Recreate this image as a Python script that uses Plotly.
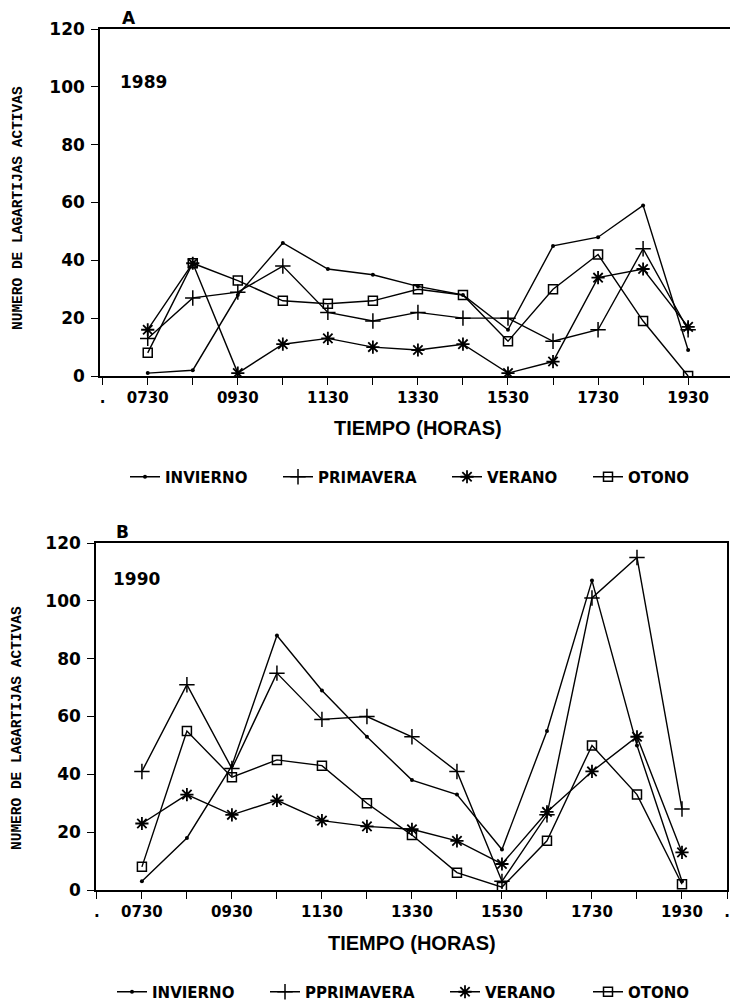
import plotly.graph_objects as go

W, H = 730, 1004

# ---------------- data ----------------
TIMES = ["0730", "0830", "0930", "1030", "1130", "1230", "1330",
         "1430", "1530", "1630", "1730", "1830", "1930"]

# 1989 (panel A)
INV_89 = [1, 2, 28, 46, 37, 35, 31, 28, 16, 45, 48, 59, 9]
PRI_89 = [13, 27, 29, 38, 22, 19, 22, 20, 20, 12, 16, 44, 16]
VER_89 = [16, 39, 1, 11, 13, 10, 9, 11, 1, 5, 34, 37, 17]
OTO_89 = [8, 39, 33, 26, 25, 26, 30, 28, 12, 30, 42, 19, 0]

# 1990 (panel B)
INV_90 = [3, 18, 43, 88, 69, 53, 38, 33, 14, 55, 107, 50, 3]
PRI_90 = [41, 71, 42, 75, 59, 60, 53, 41, 3, 26, 101, 115, 28]
VER_90 = [23, 33, 26, 31, 24, 22, 21, 17, 9, 27, 41, 53, 13]
OTO_90 = [8, 55, 39, 45, 43, 30, 19, 6, 1, 17, 50, 33, 2]

NAMES_A = ["INVIERNO", "PRIMAVERA", "VERANO", "OTONO"]
NAMES_B = ["INVIERNO", "PPRIMAVERA", "VERANO", "OTONO"]

TICK_HOURS = ["0630", "0730", "0830", "0930", "1030", "1130", "1230", "1330",
              "1430", "1530", "1630", "1730", "1830", "1930", "2030"]
TICK_TEXT_A = [".", "0730", "", "0930", "", "1130", "", "1330", "",
               "1530", "", "1730", "", "1930", ""]
TICK_TEXT_B = [".", "0730", "", "0930", "", "1130", "", "1330", "",
               "1530", "", "1730", "", "1930", "."]
Y_TICKS = [0, 20, 40, 60, 80, 100, 120]


def to_hours(t):
    return int(t[:2]) + int(t[2:]) / 60.0


X = [to_hours(t) for t in TIMES]
XT = [to_hours(t) for t in TICK_HOURS]

# ---------------- styling ----------------
BOLD = "DejaVu Sans"
NARROW = "Liberation Sans"
styles = [
    dict(symbol="circle", size=4, line=dict(width=0)),
    dict(symbol="cross-thin-open", size=11, line=dict(width=1.5, color="black")),
    dict(symbol="asterisk-open", size=11, line=dict(width=1.8, color="black")),
    dict(symbol="square-open", size=9, line=dict(width=1.5, color="black")),
]

fig = go.Figure()

panel_series = [
    ([INV_89, PRI_89, VER_89, OTO_89], NAMES_A, "x", "y", 1),
    ([INV_90, PRI_90, VER_90, OTO_90], NAMES_B, "x2", "y2", 5),
]
for series, names, xa, ya, leg0 in panel_series:
    for i, (vals, name) in enumerate(zip(series, names)):
        lg = "legend" if leg0 + i == 1 else f"legend{leg0 + i}"
        fig.add_trace(go.Scatter(
            x=X, y=vals, name=name, mode="lines+markers",
            line=dict(color="black", width=1.4),
            marker=dict(color="black", **styles[i]),
            xaxis=xa, yaxis=ya, legend=lg, showlegend=True,
        ))


def px_x(p):
    return p / W


def px_y(p):
    return 1 - p / H


axis_common = dict(
    showline=True, linecolor="black", linewidth=1.5,
    ticks="outside", ticklen=7, tickwidth=1.3, tickcolor="black",
    showgrid=False, zeroline=False, automargin=False,
)

fig.update_layout(
    template="none",
    width=W, height=H,
    margin=dict(l=0, r=0, t=0, b=0, pad=0, autoexpand=False),
    paper_bgcolor="white", plot_bgcolor="white",
    xaxis=dict(domain=[px_x(100), 1.0], range=[6.44, 20.43], anchor="y",
               tickvals=XT, ticktext=TICK_TEXT_A, mirror=True,
               tickfont=dict(family=BOLD, size=15, color="black", weight="bold"),
               **axis_common),
    yaxis=dict(domain=[px_y(376), px_y(29)], range=[0, 120], anchor="x",
               tickvals=Y_TICKS, ticklabelstandoff=3, mirror=False,
               tickfont=dict(family=BOLD, size=17, color="black", weight="bold"),
               **axis_common),
    xaxis2=dict(domain=[px_x(96), px_x(727)], range=[6.48, 20.5], anchor="y2",
                tickvals=XT, ticktext=TICK_TEXT_B, mirror=True,
                tickfont=dict(family=BOLD, size=15, color="black", weight="bold"),
                **axis_common),
    yaxis2=dict(domain=[px_y(890), px_y(543)], range=[0, 120], anchor="x2",
                tickvals=Y_TICKS, mirror=True, ticklabelstandoff=3,
                tickfont=dict(family=BOLD, size=17, color="black", weight="bold"),
                **axis_common),
    showlegend=True,
)

# legends: one per entry, positioned like the original
leg_font = dict(family=BOLD, size=15, color="black", weight="bold")
leg_pos = [(125, 477), (278, 477), (447, 477), (588, 477),
           (112, 992), (265, 992), (445, 992), (588, 992)]
for k, (lx, ly) in enumerate(leg_pos, start=1):
    key = "legend" if k == 1 else f"legend{k}"
    fig.update_layout({key: dict(
        x=px_x(lx), y=px_y(ly), xanchor="left", yanchor="middle",
        orientation="h", font=leg_font, bgcolor="rgba(0,0,0,0)",
        borderwidth=0, itemwidth=30, tracegroupgap=0,
    )})

ann_font = dict(family=BOLD, color="black", weight="bold")
annotations = [
    dict(text="A", x=px_x(120), y=px_y(18), xanchor="left", yanchor="middle",
         font=dict(size=17, **ann_font)),
    dict(text="1989", x=px_x(118), y=px_y(82), xanchor="left", yanchor="middle",
         font=dict(size=17, **ann_font)),
    dict(text="B", x=px_x(114), y=px_y(532), xanchor="left", yanchor="middle",
         font=dict(size=17, **ann_font)),
    dict(text="1990", x=px_x(111), y=px_y(579), xanchor="left", yanchor="middle",
         font=dict(size=17, **ann_font)),
    dict(text="TIEMPO (HORAS)", x=px_x(418), y=px_y(428), xanchor="center",
         yanchor="middle", font=dict(family=NARROW, size=20, color="black", weight="bold")),
    dict(text="TIEMPO (HORAS)", x=px_x(412), y=px_y(943), xanchor="center",
         yanchor="middle", font=dict(family=NARROW, size=20, color="black", weight="bold")),
    dict(text="NUMERO DE LAGARTIJAS ACTIVAS", x=px_x(18), y=px_y(208),
         xanchor="center", yanchor="middle", textangle=-90,
         font=dict(family="Liberation Mono", size=14.5, color="black", weight="bold")),
    dict(text="NUMERO DE LAGARTIJAS ACTIVAS", x=px_x(17), y=px_y(728),
         xanchor="center", yanchor="middle", textangle=-90,
         font=dict(family="Liberation Mono", size=14.5, color="black", weight="bold")),
]
for a in annotations:
    a.update(xref="paper", yref="paper", showarrow=False)
fig.update_layout(annotations=annotations)

fig.write_html("out.html")
